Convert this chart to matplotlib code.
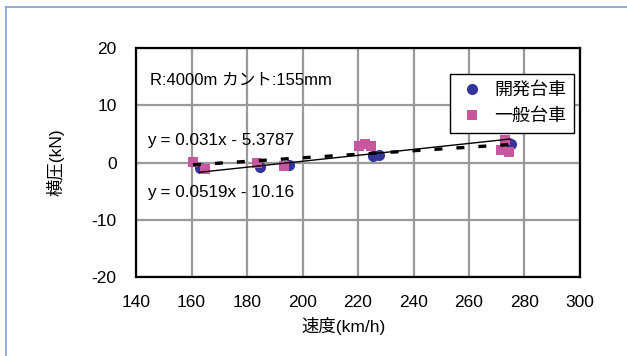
import matplotlib
matplotlib.use('Agg')
import matplotlib.pyplot as plt
from matplotlib.lines import Line2D
import numpy as np

plt.rcParams['font.family'] = ['Liberation Sans', 'Noto Sans CJK JP']
plt.rcParams['axes.unicode_minus'] = False

# 開発台車 (blue circles)
kaihatsu_x = [163, 184.5, 195, 225.5, 227.5, 275]
kaihatsu_y = [-1.0, -0.7, -0.4, 1.1, 1.4, 3.3]
# 一般台車 (pink squares)
ippan_x = [160.5, 165, 183.5, 193.5, 220.5, 222.5, 224.5, 273, 271.5, 274.5]
ippan_y = [0.1, -1.1, 0.0, -0.6, 2.8, 3.2, 2.9, 3.9, 2.2, 1.9]

# trendlines as printed on the chart
kaihatsu_fit = (0.0519, -10.16)
ippan_fit = (0.031, -5.3787)

xticks = [140, 160, 180, 200, 220, 240, 260, 280, 300]
yticks = [-20, -10, 0, 10, 20]

blue = '#34349a'
pink = '#c9579f'

fig = plt.figure(figsize=(6.27, 3.56), dpi=100)
ax = fig.add_axes([0.217, 0.222, 0.708, 0.643])

ax.grid(True, color='#9a9a9a', linewidth=1.6, zorder=0)
ax.set_axisbelow(True)

# trend lines over the range of each series
xs = np.array([min(kaihatsu_x), max(kaihatsu_x)])
ax.plot(xs, kaihatsu_fit[0] * xs + kaihatsu_fit[1], color='black', lw=1.0, zorder=4)
xs2 = np.array([min(ippan_x), max(ippan_x)])
ax.plot(xs2, ippan_fit[0] * xs2 + ippan_fit[1], color='black', lw=2.4,
        dashes=(2.4, 4.2), dash_capstyle='butt', zorder=4)

ax.plot(kaihatsu_x, kaihatsu_y, 'o', color=blue, ms=8, mew=0, label='開発台車', zorder=2)
ax.plot(ippan_x, ippan_y, 's', color=pink, ms=7.5, mew=0, label='一般台車', zorder=3)

ax.set_xlim(140, 300)
ax.set_ylim(-20, 20)
ax.set_xticks(xticks)
ax.set_yticks(yticks)
ax.tick_params(length=0, labelsize=12.5)
ax.tick_params(axis='x', pad=13)
ax.tick_params(axis='y', pad=14)
for s in ax.spines.values():
    s.set_linewidth(1.6)
    s.set_color('black')

ax.set_xlabel('速度(km/h)', fontsize=12.5)
ax.xaxis.set_label_coords(0.468, -0.176)
ax.set_ylabel('横圧(kN)', fontsize=12.5)
ax.yaxis.set_label_coords(-0.16, 0.5)

ax.text(145, 14.4, 'R:4000m カント:155mm', fontsize=12, va='center', ha='left')
ax.text(144, 3.9, 'y = 0.031x - 5.3787', fontsize=12.3, va='center', ha='left')
ax.text(144, -5.3, 'y = 0.0519x - 10.16', fontsize=12.3, va='center', ha='left')

leg = ax.legend(loc='upper left', bbox_to_anchor=(450 / 627, 1 - 74 / 356),
                bbox_transform=fig.transFigure, fontsize=13, fancybox=False,
                edgecolor='black', framealpha=1, handletextpad=0.5,
                borderpad=0.45, labelspacing=0.5, handlelength=1.5,
                borderaxespad=0)
leg.get_frame().set_linewidth(1.0)
leg.set_zorder(10)

# thin frame around the figure (top and left edges visible)
fig.add_artist(Line2D([6 / 627, 1], [1 - 7 / 356, 1 - 7 / 356], color='#7f9fd3', lw=1.2))
fig.add_artist(Line2D([6 / 627, 6 / 627], [0, 1 - 7 / 356], color='#7f9fd3', lw=1.2))

fig.savefig('out.png', dpi=100)
